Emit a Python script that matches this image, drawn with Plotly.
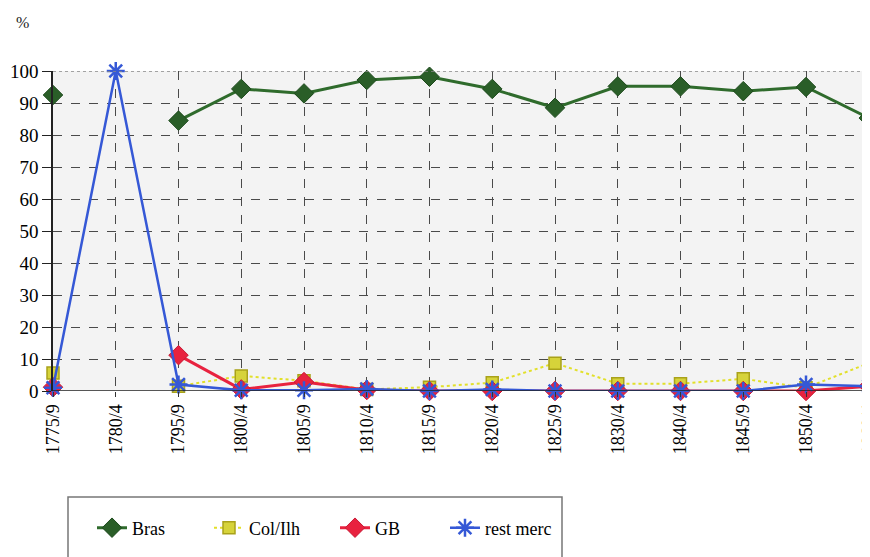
import plotly.graph_objects as go

categories = ["1775/9", "1780/4", "1795/9", "1800/4", "1805/9", "1810/4", "1815/9",
              "1820/4", "1825/9", "1830/4", "1840/4", "1845/9", "1850/4", "1860/4"]
bras = [92.5, None, 84.5, 94.4, 93, 97.2, 98.2, 94.4, 88.5, 95.2, 95.2, 93.7, 95, 85.3]
col_ilh = [5.6, None, 1.5, 4.7, 3.2, 0.5, 1.2, 2.6, 8.7, 2.3, 2.3, 3.8, 1.0, 8.7]
gb = [1.2, None, 11.2, 0.5, 2.8, 0.3, 0.0, 0.0, 0.0, 0.0, 0.0, 0.0, 0.0, 1.5]
rest_merc = [1.0, 100, 2.0, 0.2, 0.2, 0.6, 0.0, 0.5, 0.0, 0.0, 0.0, 0.0, 2.0, 1.5]
y_ticks = [0, 10, 20, 30, 40, 50, 60, 70, 80, 90, 100]

serif = "Liberation Serif, Times New Roman, serif"

fig = go.Figure()
fig.add_trace(go.Scatter(
    x=categories, y=bras, name="Bras", mode="lines+markers", legend="legend",
    line=dict(color="#2f6b2c", width=3),
    marker=dict(symbol="diamond", size=15, color="#2a5e28", line=dict(color="#1d4a1c", width=1)),
    cliponaxis=False))
fig.add_trace(go.Scatter(
    x=categories, y=col_ilh, name="Col/Ilh", mode="lines+markers", legend="legend2",
    line=dict(color="#e2e02a", width=2, dash="dot"),
    marker=dict(symbol="square", size=12, color="#d6d33a", line=dict(color="#a9a21a", width=1.5)),
    cliponaxis=False))
fig.add_trace(go.Scatter(
    x=categories, y=gb, name="GB", mode="lines+markers", legend="legend3",
    line=dict(color="#e8223f", width=3),
    marker=dict(symbol="diamond", size=15, color="#e8223f", line=dict(color="#c81a35", width=1)),
    cliponaxis=False))
fig.add_trace(go.Scatter(
    x=categories, y=rest_merc, name="rest merc", mode="lines+markers", legend="legend4",
    line=dict(color="#3558d6", width=2.5),
    marker=dict(symbol="asterisk-open", size=15, color="#3558d6", line=dict(color="#3558d6", width=2.5)),
    cliponaxis=False))

# page body has an 8px margin: figure origin is at screen (8, 8)
W = 817.0
H = 320.0
legend_common = dict(orientation="h", bgcolor="rgba(0,0,0,0)", borderwidth=0,
                     font=dict(family=serif, size=18, color="#000"),
                     xanchor="left", yanchor="middle", y=(391 - 528) / H, itemwidth=30)
fig.update_layout(
    width=870, height=557,
    margin=dict(l=45, r=8, t=63, b=174, autoexpand=False),
    paper_bgcolor="white",
    plot_bgcolor="#f3f3f3",
    showlegend=True,
    legend=dict(x=(92 - 53) / W, **legend_common),
    legend2=dict(x=(209 - 53) / W, **legend_common),
    legend3=dict(x=(335 - 53) / W, **legend_common),
    legend4=dict(x=(445 - 53) / W, **legend_common),
    xaxis=dict(type="category", range=[0, 13.02], tickangle=-90, automargin=False,
               tickfont=dict(family=serif, size=18, color="#000"),
               showgrid=True, gridcolor="#4a4a4a", griddash="dash", gridwidth=1,
               showline=False, ticks="outside", ticklen=5, tickcolor="#333", zeroline=False),
    yaxis=dict(range=[0, 100], tickvals=y_ticks, automargin=False,
               tickfont=dict(family=serif, size=19, color="#000"),
               showgrid=True, gridcolor="#4a4a4a", griddash="dash", gridwidth=1,
               showline=True, linecolor="#222", linewidth=1.5,
               ticks="outside", ticklen=9, tickcolor="#222", zeroline=False),
    annotations=[dict(text="%", x=(22 - 53) / W, y=(391 - 22) / H, xref="paper", yref="paper",
                      showarrow=False, xanchor="center", yanchor="middle",
                      font=dict(family=serif, size=16, color="#222"))],
)

fig.add_shape(type="line", xref="paper", yref="y", x0=0, x1=1, y0=100, y1=100,
              line=dict(color="#888", width=1.5, dash="dot"))
fig.add_shape(type="line", xref="paper", yref="y", x0=0, x1=1, y0=0, y1=0,
              line=dict(color="#222", width=1.5))
fig.add_shape(type="rect", xref="paper", yref="paper",
              x0=(68 - 53) / W, x1=(562 - 53) / W,
              y0=(391 - 497) / H, y1=(391 - 575) / H,
              line=dict(color="#777", width=1.5), layer="below")

fig.write_html("out.html")
